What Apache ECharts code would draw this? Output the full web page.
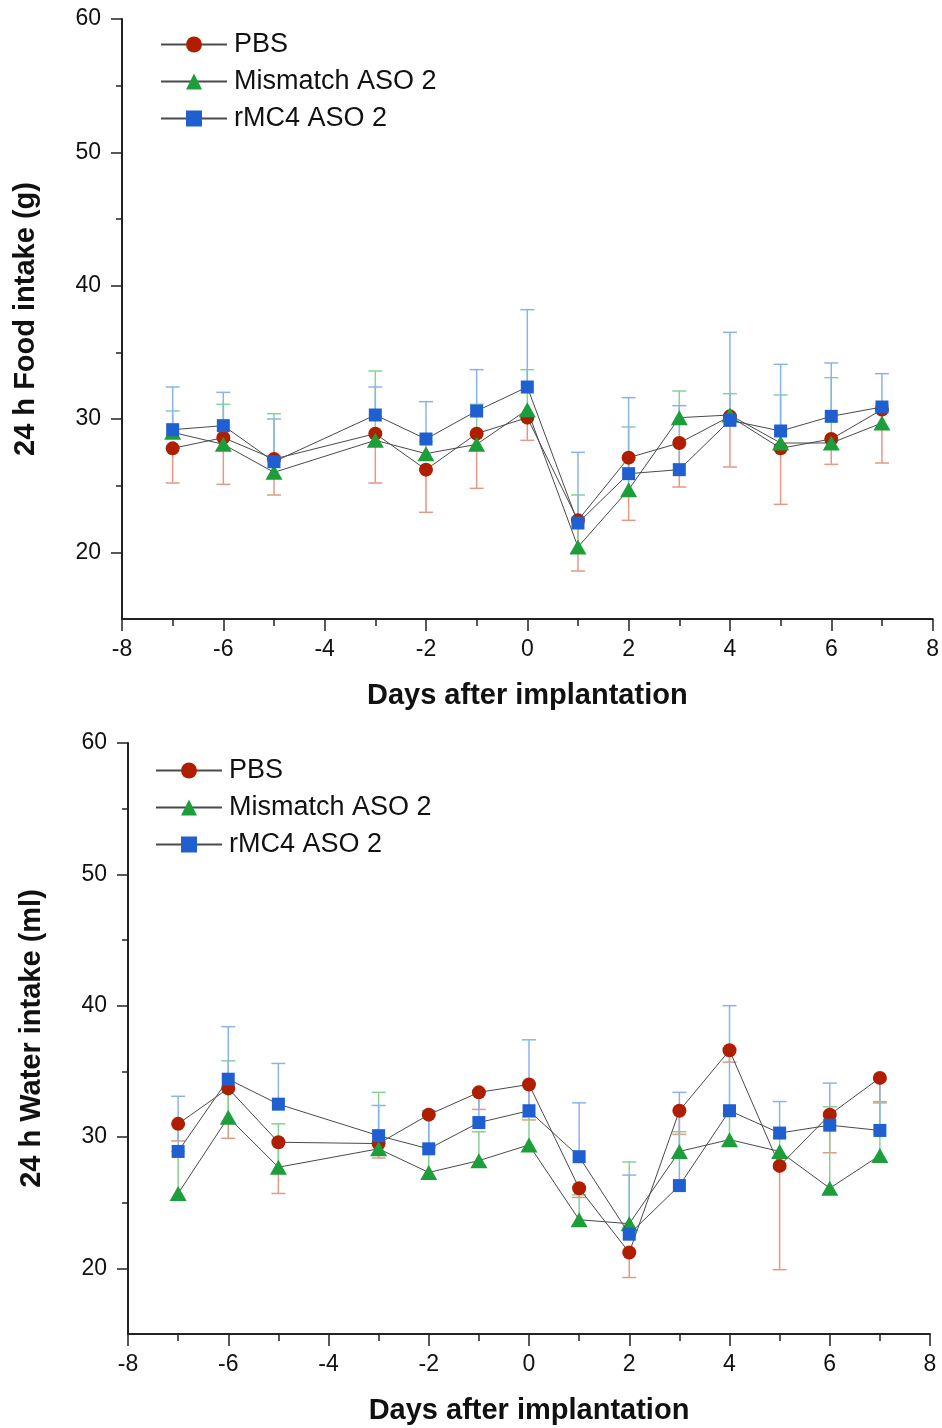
<!DOCTYPE html>
<html>
<head>
<meta charset="utf-8">
<script src="https://cdn.jsdelivr.net/npm/echarts@6/dist/echarts.min.js"></script>
<style>
  html, body { margin: 0; padding: 0; background: #fff; }
  #main { width: 942px; height: 1428px; }
</style>
</head>
<body>
<div id="main"></div>
<script>
// days measured (no day -4)
var days = [-7, -6, -5, -3, -2, -1, 0, 1, 2, 3, 4, 5, 6, 7];
var seriesNames = ['PBS', 'Mismatch ASO 2', 'rMC4 ASO 2'];
var xTicks = [-8, -6, -4, -2, 0, 2, 4, 6, 8];
var yTicks = [20, 30, 40, 50, 60];
var yMinorTicks = [25, 35, 45, 55];

// 24 h food intake (g): means and error bar ends
var foodPbs = [27.8, 28.6, 27.0, 28.9, 26.2, 28.9, 30.1, 22.4, 27.1, 28.2, 30.2, 27.8, 28.5, 30.7];
var foodPbsBar = [25.2, 25.1, 24.3, 25.2, 23.0, 24.8, 28.4, 18.6, 22.4, 24.9, 26.4, 23.6, 26.6, 26.7];
var foodMis = [29.0, 28.1, 26.0, 28.4, 27.4, 28.1, 30.7, 20.4, 24.7, 30.1, 30.3, 28.2, 28.2, 29.7];
var foodMisBar = [30.6, 31.1, 30.4, 33.6, 28.3, 31.1, 33.7, 24.3, 29.4, 32.1, 31.9, 31.8, 33.1, 31.0];
var foodRmc = [29.2, 29.5, 26.8, 30.3, 28.5, 30.6, 32.4, 22.2, 25.9, 26.2, 29.9, 29.1, 30.2, 30.9];
var foodRmcBar = [32.4, 32.0, 30.0, 32.4, 31.3, 33.7, 38.2, 27.5, 31.6, 31.0, 36.5, 34.1, 34.2, 33.4];

// 24 h water intake (ml)
var waterPbs = [31.0, 33.7, 29.6, 29.5, 31.7, 33.4, 34.0, 26.1, 21.2, 32.0, 36.6, 27.8, 31.7, 34.5];
var waterPbsBar = [29.7, 29.9, 25.7, 28.4, 29.3, 32.1, 31.3, 25.4, 19.3, 30.2, 35.7, 19.9, 28.8, 32.6];
var waterMis = [25.7, 31.5, 27.7, 29.1, 27.3, 28.2, 29.4, 23.7, 23.4, 28.9, 29.8, 28.9, 26.1, 28.6];
var waterMisBar = [28.9, 35.8, 31.0, 33.4, 29.2, 30.4, 31.5, 25.6, 28.1, 30.4, 31.8, 30.0, 32.3, 32.7];
var waterRmc = [28.9, 34.4, 32.5, 30.1, 29.1, 31.1, 32.0, 28.5, 22.6, 26.3, 32.0, 30.3, 30.9, 30.5];
var waterRmcBar = [33.1, 38.4, 35.6, 32.4, 32.0, 33.5, 37.4, 32.6, 27.1, 33.4, 40.0, 32.7, 34.1, 34.4];

var FONT = '"Liberation Sans", Arial, sans-serif';
var markerColors = ['#b01e00', '#1c9e3a', '#1f5fcf'];
var barColors = ['#e49886', '#86d394', '#8ab3ec'];
var symbols = ['circle', 'triangle', 'rect'];
var symbolSizes = [14, [17, 15], 13];

var chart = echarts.init(document.getElementById('main'), null, { renderer: 'canvas' });

function pairs(xs, ys) {
  return xs.map(function(x, i) { return [x, ys[i]]; });
}

function errorData(xs, ys, ends) {
  return xs.map(function(x, i) { return [x, ys[i], ends[i]]; });
}

function renderError(color) {
  return function(params, api) {
    var p0 = api.coord([api.value(0), api.value(1)]);
    var p1 = api.coord([api.value(0), api.value(2)]);
    var half = 7;
    var style = { stroke: color, lineWidth: 1.5 };
    return {
      type: 'group',
      children: [
        { type: 'line', shape: { x1: p0[0], y1: p0[1], x2: p1[0], y2: p1[1] }, style: style },
        { type: 'line', shape: { x1: p1[0] - half, y1: p1[1], x2: p1[0] + half, y2: p1[1] }, style: style }
      ]
    };
  };
}

function makeXAxis(gridIndex) {
  return {
    type: 'value', gridIndex: gridIndex, min: -8, max: 8, interval: 2,
    name: 'Days after implantation', nameLocation: 'middle', nameGap: 62,
    nameTextStyle: { fontFamily: FONT, fontSize: 29, fontWeight: 'bold', color: '#111' },
    axisLine: { show: true, onZero: false, lineStyle: { color: '#222', width: 2 } },
    axisTick: { show: true, inside: false, length: 12, lineStyle: { color: '#222', width: 1.5 } },
    minorTick: { show: true, splitNumber: 2, length: 7, lineStyle: { color: '#222', width: 1.5 } },
    axisLabel: { fontFamily: FONT, fontSize: 23, color: '#111', margin: 19 },
    splitLine: { show: false }
  };
}

function makeYAxes(gridIndex, title) {
  return [{
    type: 'value', gridIndex: gridIndex, min: 15, max: 60,
    name: title, nameLocation: 'middle', nameGap: 82, nameRotate: 90,
    nameTextStyle: { fontFamily: FONT, fontSize: 29, fontWeight: 'bold', color: '#111' },
    axisLine: { show: true, onZero: false, lineStyle: { color: '#222', width: 2 } },
    axisTick: { show: true, length: 11, customValues: yTicks, lineStyle: { color: '#222', width: 1.5 } },
    axisLabel: { fontFamily: FONT, fontSize: 23, color: '#111', margin: 21, customValues: yTicks },
    splitLine: { show: false }
  }, {
    // second axis only for the short minor ticks
    type: 'value', gridIndex: gridIndex, min: 15, max: 60, position: 'left',
    axisLine: { show: false, onZero: false },
    axisTick: { show: true, length: 6, customValues: yMinorTicks, lineStyle: { color: '#222', width: 1.5 } },
    axisLabel: { show: false },
    splitLine: { show: false }
  }];
}

function makeSeries(gridIndex, yAxisIndex, means, bars) {
  var out = [];
  // error bars first, under the lines
  for (var i = 0; i < 3; i++) {
    out.push({
      type: 'custom', name: seriesNames[i] + ' error', xAxisIndex: gridIndex, yAxisIndex: yAxisIndex,
      renderItem: renderError(barColors[i]), data: errorData(days, means[i], bars[i]),
      z: 1, silent: true, encode: { x: 0, y: [1, 2] }
    });
  }
  for (var j = 0; j < 3; j++) {
    out.push({
      type: 'line', name: seriesNames[j], xAxisIndex: gridIndex, yAxisIndex: yAxisIndex,
      data: pairs(days, means[j]),
      symbol: symbols[j], symbolSize: symbolSizes[j], showAllSymbol: true,
      itemStyle: { color: markerColors[j], opacity: 1 },
      lineStyle: { color: '#4a4a4a', width: 1 },
      emphasis: { disabled: true },
      z: 2 + j, animation: false
    });
  }
  return out;
}

function makeLegend(left, top) {
  return {
    orient: 'vertical', left: left, top: top, padding: 0,
    itemWidth: 66, itemHeight: 20, itemGap: 10,
    data: seriesNames,
    textStyle: { fontFamily: FONT, fontSize: 27, color: '#111', padding: [0, 0, 0, 2] },
    selectedMode: false
  };
}

var option = {
  animation: false,
  backgroundColor: '#fff',
  grid: [
    { left: 122, top: 19, width: 811, height: 600 },
    { left: 128, top: 743, width: 802, height: 591 }
  ],
  legend: [makeLegend(160, 31), makeLegend(155, 757)],
  xAxis: [makeXAxis(0), makeXAxis(1)],
  yAxis: makeYAxes(0, '24 h Food intake (g)').concat(makeYAxes(1, '24 h Water intake (ml)')),
  series: makeSeries(0, 0, [foodPbs, foodMis, foodRmc], [foodPbsBar, foodMisBar, foodRmcBar])
    .concat(makeSeries(1, 2, [waterPbs, waterMis, waterRmc], [waterPbsBar, waterMisBar, waterRmcBar]))
};

chart.setOption(option);
</script>
</body>
</html>
